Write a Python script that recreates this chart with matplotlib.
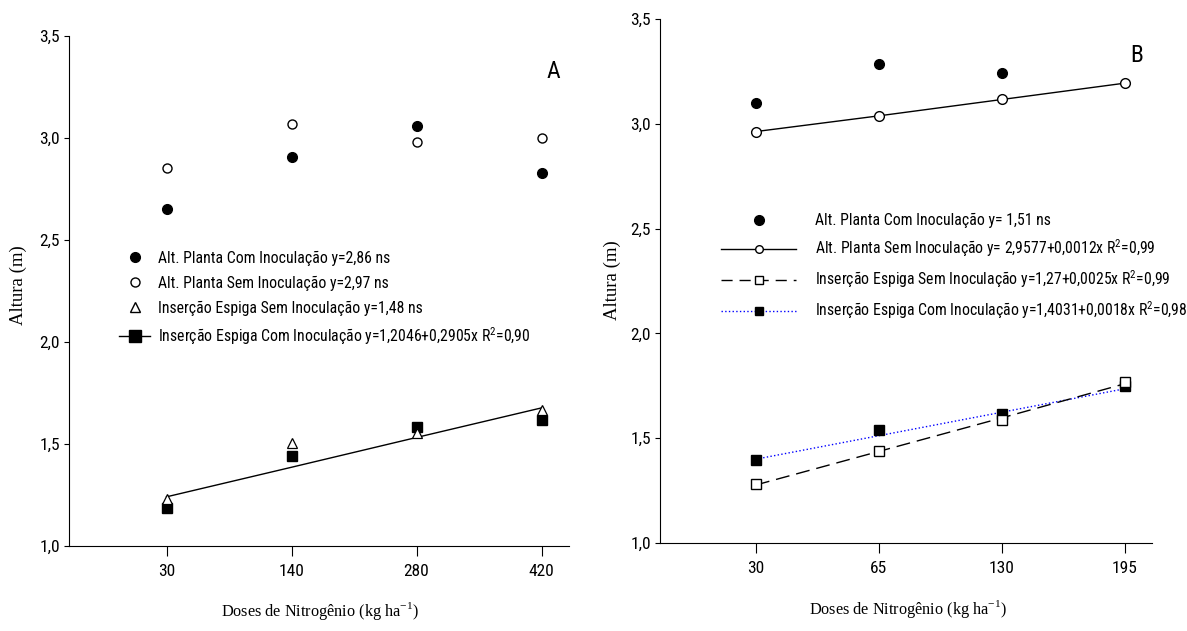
import matplotlib
matplotlib.use("Agg")
import matplotlib.pyplot as plt
from matplotlib.lines import Line2D
import numpy as np

SANS = ['Roboto Condensed', 'Archivo Narrow', 'Liberation Sans', 'DejaVu Sans']
SERIF = ['Liberation Serif', 'DejaVu Serif']
plt.rcParams['font.family'] = SANS
plt.rcParams['mathtext.fontset'] = 'custom'
plt.rcParams['mathtext.rm'] = 'Roboto Condensed'

# painel A - doses de N
doses_a = ['30', '140', '280', '420']
planta_com_a = [2.65, 2.905, 3.06, 2.83]
planta_sem_a = [2.855, 3.07, 2.98, 3.00]
espiga_sem_a = [1.228, 1.506, 1.555, 1.666]
espiga_com_a = [1.184, 1.44, 1.584, 1.62]
ajuste_com_a = [1.241, 1.386, 1.532, 1.677]

# painel B - doses de N
doses_b = ['30', '65', '130', '195']
planta_com_b = [3.097, 3.284, 3.24, np.nan]
planta_sem_b = [2.963, 3.038, 3.116, 3.194]
espiga_sem_b = [1.281, 1.441, 1.587, 1.767]
espiga_com_b = [1.397, 1.537, 1.614, 1.749]
ajuste_sem_b = [1.277, 1.437, 1.597, 1.760]
ajuste_com_b = [1.400, 1.512, 1.624, 1.736]

legenda_a = ['Alt. Planta Com Inoculação y=2,86 ns',
             'Alt. Planta Sem Inoculação y=2,97 ns',
             'Inserção Espiga Sem Inoculação y=1,48 ns',
             'Inserção Espiga Com Inoculação y=1,2046+0,2905x R$^2$=0,90']
legenda_b = ['Alt. Planta Com Inoculação y= 1,51 ns',
             'Alt. Planta Sem Inoculação y= 2,9577+0,0012x R$^2$=0,99',
             'Inserção Espiga Sem Inoculação y=1,27+0,0025x R$^2$=0,99',
             'Inserção Espiga Com Inoculação y=1,4031+0,0018x R$^{2}$=0,98']

W, H = 1187, 631
fig = plt.figure(figsize=(W / 100, H / 100), dpi=100)
axA = fig.add_axes([69 / W, 1 - 546 / H, 500 / W, 510 / H])
axB = fig.add_axes([660 / W, 1 - 543 / H, 492 / W, 524 / H])


def estilo(ax, doses, ylab_xy, xlab_xy):
    ax.spines['top'].set_visible(False)
    ax.spines['right'].set_visible(False)
    ax.set_ylim(1.0, 3.5)
    ax.set_xlim(-0.78, 3.22)
    ax.set_yticks([1.0, 1.5, 2.0, 2.5, 3.0, 3.5])
    ax.set_yticklabels(['1,0', '1,5', '2,0', '2,5', '3,0', '3,5'], fontsize=12.5)
    ax.set_xticks(range(len(doses)))
    ax.set_xticklabels(doses, fontsize=12.5)
    ax.tick_params(axis='y', direction='out', length=3.5, width=0.8, pad=3)
    ax.tick_params(axis='x', direction='out', length=7, width=0.8, pad=6)
    ax.set_ylabel('Altura (m)', family=SERIF, fontsize=13.5)
    ax.yaxis.set_label_coords(*ylab_xy)
    ax.set_xlabel('Doses de Nitrogênio (kg ha$^{\\mathregular{-1}}$)', family=SERIF,
                  fontsize=11.7)
    ax.xaxis.set_label_coords(*xlab_xy)


xa = np.arange(len(doses_a))
xb = np.arange(len(doses_b))

# --- A
axA.plot(xa, planta_com_a, 'o', color='black', ms=7)
axA.plot(xa, planta_sem_a, 'o', mfc='white', mec='black', ms=6.5, mew=1)
axA.plot(xa, ajuste_com_a, '-', color='black', lw=1)
axA.plot(xa, espiga_com_a, 's', color='black', ms=7)
axA.plot(xa, espiga_sem_a, '^', mfc='white', mec='black', ms=7, mew=0.9)
estilo(axA, doses_a, (-0.084, 0.512), (0.502, -0.106))
axA.text(3.04, 3.294, 'A', fontsize=17, ha='left', va='baseline')

hA = [Line2D([], [], ls='none', marker='o', color='black', ms=7),
      Line2D([], [], ls='none', marker='o', mfc='white', mec='black', ms=6.5),
      Line2D([], [], ls='none', marker='^', mfc='white', mec='black', ms=7),
      Line2D([], [], ls='-', lw=1, marker='s', color='black', ms=9)]
axA.legend(hA, legenda_a, loc='upper left', bbox_to_anchor=(0.10, 0.579),
           frameon=False, fontsize=11.3, handlelength=2.0, handletextpad=0.5,
           labelspacing=0.62, borderpad=0, borderaxespad=0)

# --- B
axB.plot(xb, planta_com_b, 'o', color='black', ms=7)
axB.plot(xb, planta_sem_b, '-', color='black', lw=1)
axB.plot(xb, planta_sem_b, 'o', mfc='white', mec='black', ms=7, mew=1)
axB.plot(xb, ajuste_com_b, ':', color='blue', lw=1)
axB.plot(xb, espiga_com_b, 's', color='black', ms=7)
axB.plot(xb, ajuste_sem_b, '-', color='black', lw=1, dashes=(10, 5))
axB.plot(xb, espiga_sem_b, 's', mfc='white', mec='black', ms=7, mew=1)
estilo(axB, doses_b, (-0.080, 0.502), (0.504, -0.105))
axB.text(3.044, 3.295, 'B', fontsize=17, ha='left', va='baseline')

hB = [Line2D([], [], ls='none', marker='o', color='black', ms=7),
      Line2D([], [], ls='-', lw=1, marker='o', mfc='white', mec='black', ms=5.5, color='black'),
      Line2D([], [], ls='-', lw=1, dashes=(8, 5), marker='s', mfc='white', mec='black',
             ms=6, color='black'),
      Line2D([], [], ls=':', lw=1, marker='s', color='blue', mfc='black', mec='black', ms=6)]
axB.legend(hB, legenda_b, loc='upper left', bbox_to_anchor=(0.124, 0.630),
           frameon=False, fontsize=11.3, handlelength=4.8, handletextpad=1.2,
           labelspacing=0.6, borderpad=0, borderaxespad=0)

fig.savefig('out.png', dpi=100)
